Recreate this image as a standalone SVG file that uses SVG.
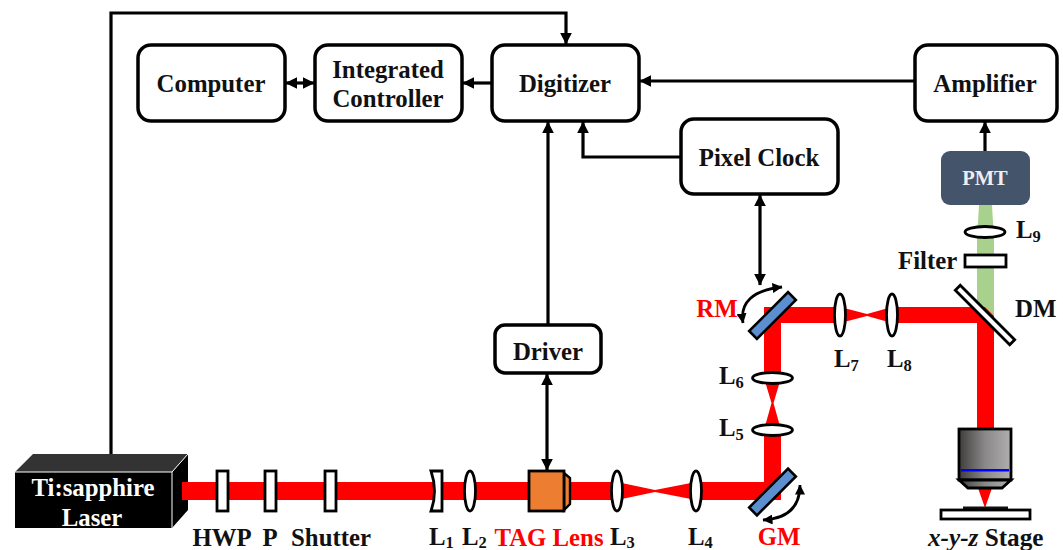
<svg xmlns="http://www.w3.org/2000/svg" width="1063" height="550" viewBox="0 0 1063 550">
<style>
text{font-family:"Liberation Serif","Times New Roman",serif;font-weight:bold;font-size:24.8px;fill:#111}
.c{text-anchor:middle}
.sub{font-size:16.5px}
.box{fill:#fff;stroke:#000;stroke-width:3.5}
.opt{fill:#fff;stroke:#000;stroke-width:2.8}
.line{fill:none;stroke:#000;stroke-width:3.2}
.arc{fill:none;stroke:#000;stroke-width:2.8}
.beam{fill:#f00}
.mir{fill:#5b8fd0;stroke:#000;stroke-width:2.6}
</style>
<defs>
<marker id="a" viewBox="0 0 10 10" refX="9.500" refY="5" markerWidth="12" markerHeight="12" markerUnits="userSpaceOnUse" orient="auto-start-reverse"><path d="M0 0L10 5L0 10Z" fill="#000"/></marker>
<marker id="b" viewBox="0 0 10 10" refX="9.500" refY="5" markerWidth="10" markerHeight="10" markerUnits="userSpaceOnUse" orient="auto-start-reverse"><path d="M0 0L10 5L0 10Z" fill="#000"/></marker>
<linearGradient id="g"><stop offset="0" stop-color="#3f3c3c"/><stop offset=".5" stop-color="#8a8888"/><stop offset="1" stop-color="#b0aeae"/></linearGradient>
</defs>
<g id="laser">
<path d="M33 454H188L172 472H15Z" fill="#333"/>
<path d="M172 472L188 454V510L172 528Z" fill="#000"/>
<rect x="15" y="472" width="157" height="56" fill="#000"/>
<path d="M15 472H172V528M172 472L188 454" fill="none" stroke="#fff" stroke-width="1"/>
<text class="c" x="93" y="496" style="fill:#fff">Ti:sapphire</text>
<text class="c" x="92" y="526" style="fill:#fff">Laser</text>
</g>
<g id="beams">
<rect class="beam" x="182" y="482" width="435" height="18"/>
<path class="beam" d="M617 482L655 490L696 482V500L655 492L617 500Z"/>
<rect class="beam" x="696" y="482" width="85" height="18"/>
<rect class="beam" x="764" y="430" width="17" height="60"/>
<path class="beam" d="M764 430L771.500 403H773.500L781 430ZM764 378L771.500 403H773.500L781 378Z"/>
<rect class="beam" x="764" y="307" width="17" height="71"/>
<rect class="beam" x="764" y="307" width="76" height="16"/>
<path class="beam" d="M840 307L867 314L892 307V323L867 316L840 323Z"/>
<rect class="beam" x="892" y="307" width="102" height="16"/>
<path d="M979 205H992L994 240V325L977 307V240Z" fill="#a9d18e"/>
<path class="beam" d="M977 323H994V429H977ZM978 488H992L985 508Z"/>
<path class="beam" d="M977 307H985L994 316V323H977Z"/>
</g>
<g id="connectors">
<path class="line" d="M111 454V13H566V44" marker-end="url(#a)"/>
<path class="line" d="M492 83H463" marker-end="url(#a)"/>
<path class="line" d="M286 83H314" marker-start="url(#a)" marker-end="url(#a)"/>
<path class="line" d="M915 81H640" marker-end="url(#a)"/>
<path class="line" d="M985 151V122" marker-end="url(#a)"/>
<path class="line" d="M548 325V122" marker-end="url(#a)"/>
<path class="line" d="M681 157H583V122" marker-end="url(#a)"/>
<path class="line" d="M547 374V470" marker-start="url(#a)" marker-end="url(#a)"/>
<path class="line" d="M760 195V285" marker-start="url(#a)" marker-end="url(#a)"/>
<path class="arc" d="M743 323Q738 292 782 287" marker-start="url(#b)" marker-end="url(#b)"/>
<path class="arc" d="M763 520Q800 518 800 485" marker-start="url(#b)" marker-end="url(#b)"/>
</g>
<g id="computer"><rect class="box" x="138" y="45" width="147" height="76" rx="13"/><text class="c" x="211" y="92">Computer</text></g>
<g id="controller"><rect class="box" x="315" y="45" width="147" height="76" rx="13"/><text class="c" x="388" y="78">Integrated</text><text class="c" x="388" y="107">Controller</text></g>
<g id="digitizer"><rect class="box" x="492" y="45" width="147" height="76" rx="13"/><text class="c" x="565" y="92">Digitizer</text></g>
<g id="amplifier"><rect class="box" x="915" y="45" width="142" height="76" rx="13"/><text class="c" x="985" y="92">Amplifier</text></g>
<g id="pixel-clock"><rect class="box" x="681" y="119" width="157" height="75" rx="13"/><text class="c" x="759" y="166">Pixel Clock</text></g>
<g id="driver"><rect class="box" x="495" y="325" width="106" height="48" rx="10"/><text class="c" x="548" y="360">Driver</text></g>
<g id="pmt"><rect x="941" y="151" width="89" height="54" rx="9" fill="#44546a"/><text class="c" x="985" y="185" style="font-size:20.500px;fill:#eee">PMT</text></g>
<g id="hwp"><rect class="opt" x="217" y="471" width="11" height="40"/><text class="c" x="222" y="546">HWP</text></g>
<g id="p"><rect class="opt" x="265" y="471" width="11" height="40"/><text class="c" x="270" y="546">P</text></g>
<g id="shutter"><rect class="opt" x="325" y="471" width="11" height="40"/><text class="c" x="331" y="546">Shutter</text></g>
<g id="l1"><path class="opt" d="M431 471H442V511H431Q438 491 431 471Z"/><text x="429" y="545">L<tspan class="sub" dy="3">1</tspan></text></g>
<g id="l2"><ellipse class="opt" cx="470" cy="491" rx="5.500" ry="20"/><text x="462" y="545">L<tspan class="sub" dy="3">2</tspan></text></g>
<g id="tag-lens"><path d="M564 473L570 478V504L564 510Z" fill="#ed7d31" stroke="#000" stroke-width="2.400"/><rect x="529" y="471" width="35" height="40" fill="#ed7d31" stroke="#000" stroke-width="2.800"/><text class="c" x="549" y="546" style="fill:#f00">TAG Lens</text></g>
<g id="l3"><ellipse class="opt" cx="617" cy="491" rx="5.500" ry="20"/><text x="610" y="545">L<tspan class="sub" dy="3">3</tspan></text></g>
<g id="l4"><ellipse class="opt" cx="696" cy="491" rx="5.500" ry="20"/><text x="688" y="545">L<tspan class="sub" dy="3">4</tspan></text></g>
<g id="gm"><rect class="mir" x="745" y="486.500" width="55" height="11" transform="rotate(-45 772.500 492)"/><text class="c" x="779" y="545" style="fill:#f00">GM</text></g>
<g id="l5"><ellipse class="opt" cx="772.500" cy="430" rx="20" ry="5.500"/><text x="719" y="436">L<tspan class="sub" dy="4">5</tspan></text></g>
<g id="l6"><ellipse class="opt" cx="772.500" cy="378" rx="20" ry="5.500"/><text x="719" y="384">L<tspan class="sub" dy="4">6</tspan></text></g>
<g id="rm"><rect class="mir" x="745" y="310" width="55" height="11" transform="rotate(-45 772.500 315.500)"/><text class="c" x="717" y="317" style="fill:#f00">RM</text></g>
<g id="l7"><ellipse class="opt" cx="840" cy="315" rx="5.500" ry="21"/><text x="834" y="367">L<tspan class="sub" dy="4">7</tspan></text></g>
<g id="l8"><ellipse class="opt" cx="892" cy="315" rx="5.500" ry="21"/><text x="887" y="367">L<tspan class="sub" dy="4">8</tspan></text></g>
<g id="dm"><rect x="946.500" y="311.500" width="77" height="7" transform="rotate(45 985 315)" class="opt"/><text x="1015" y="317">DM</text></g>
<g id="l9"><ellipse class="opt" cx="985" cy="232" rx="20" ry="5.500"/><text x="1016" y="238">L<tspan class="sub" dy="4">9</tspan></text></g>
<g id="filter"><rect class="opt" x="965" y="255" width="41" height="12"/><text x="898" y="269">Filter</text></g>
<g id="objective">
<rect x="959" y="429" width="52" height="51" fill="url(#g)" stroke="#000" stroke-width="2.800"/>
<path d="M959 480H1011L1002 488H968Z" fill="url(#g)" stroke="#000" stroke-width="2.800"/>
<rect x="961" y="469" width="48" height="2.500" fill="#00f"/>
</g>
<g id="stage">
<rect x="963" y="506.500" width="45" height="4" fill="#111"/>
<rect class="opt" x="941" y="510" width="89" height="9"/>
<text x="928" y="546" style="font-size:25.200px"><tspan font-style="italic">x-y-z</tspan> Stage</text>
</g>
</svg>
